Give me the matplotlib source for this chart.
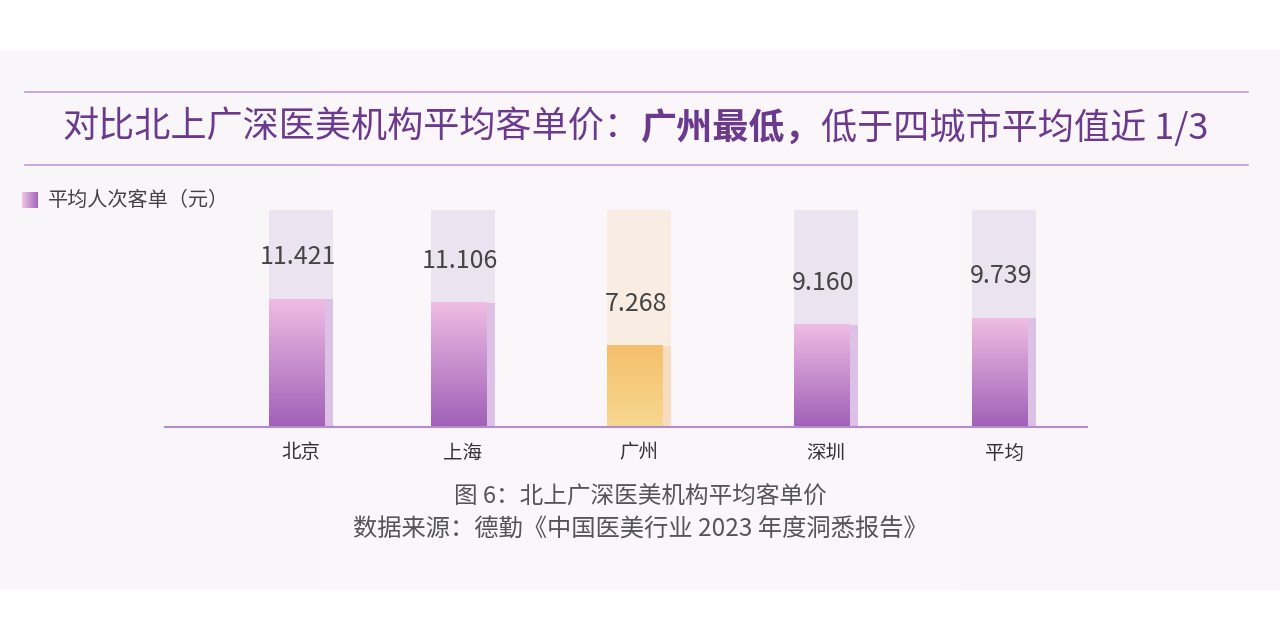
import numpy as np
import matplotlib.pyplot as plt
from matplotlib.patches import Rectangle
from matplotlib.colors import LinearSegmentedColormap

plt.rcParams['font.family'] = ['Noto Sans CJK SC', 'DejaVu Sans']

cities = ['北京', '上海', '广州', '深圳', '平均']
values = [11.421, 11.106, 7.268, 9.160, 9.739]
labels = ['11.421', '11.106', '7.268', '9.160', '9.739']

W, H = 1280, 639
fig = plt.figure(figsize=(12.8, 6.39), dpi=100)
fig.patch.set_facecolor('white')

# fondo claro del panel
bg = fig.add_axes([0, 1 - 590 / H, 1, 540 / H])
grad = np.linspace(0, 1, 256).reshape(1, -1)
bgcmap = LinearSegmentedColormap.from_list('bg', ['#f8f6f9', '#fcf7fb', '#faf5f9'])
bg.imshow(grad, aspect='auto', cmap=bgcmap, extent=[0, 1, 0, 1])
bg.axis('off')

# titulo con lineas
for y in (92, 165):
    fig.add_artist(plt.Line2D([25 / W, 1248 / W], [1 - y / H] * 2, color='#c29ad6', lw=1.2))

tcol = '#6b3a8c'
parts = [('对比北上广深医美机构平均客单价：', 'normal'), ('广州最低，', 'bold'), ('低于四城市平均值近 1/3', 'normal')]
fig.canvas.draw()
r = fig.canvas.get_renderer()
txts = [fig.text(0, 1 - 128 / H, s, fontsize=26, weight=w, color=tcol, va='center') for s, w in parts]
widths = [t.get_window_extent(r).width for t in txts]
x0 = (W - sum(widths)) / 2 - 5
for t, w in zip(txts, widths):
    t.set_x(x0 / W)
    x0 += w

# leyenda
purple = LinearSegmentedColormap.from_list('p', ['#a060b8', '#efbde3'])
orange = LinearSegmentedColormap.from_list('o', ['#f7d890', '#f5bf6c'])
lg = fig.add_axes([22 / W, 1 - 208 / H, 16 / W, 16 / H])
lg.imshow(np.linspace(0, 1, 50).reshape(1, -1), aspect='auto', cmap=LinearSegmentedColormap.from_list('l', ['#f0c6e6', '#a566bd']))
lg.axis('off')
fig.text(48 / W, 1 - 200 / H, '平均人次客单（元）', fontsize=14.5, color='#444', va='center')

# barras
ax = fig.add_axes([165 / W, 1 - 427 / H, 922 / W, 217 / H])
ymax = 19.4
ax.axis('off')
centers = [132, 294, 470, 657, 835]
bw, sw = 56, 8
col = np.linspace(0, 1, 256).reshape(-1, 1)
for i, (c, v, lab) in enumerate(zip(centers, values, labels)):
    left = c - bw / 2
    is_gz = cities[i] == '广州'
    back = '#f8ece3' if is_gz else '#ece3f0'
    ax.add_patch(Rectangle((left, 0), bw + sw, ymax, color=back, zorder=1, lw=0))
    cmap = orange if is_gz else purple
    ax.imshow(col, aspect='auto', cmap=cmap, origin='lower', extent=[left, left + bw, 0, v], zorder=2)
    ax.add_patch(Rectangle((left + bw, 0), sw, v, color='#f8dcc0' if is_gz else '#dcc0e6', zorder=2, lw=0))
    ax.text(c + 1, v + 3.75, lab, ha='center', va='center', fontsize=18, color='#444', zorder=3)
    fig.text((165 + c + 4) / W, 1 - 453 / H, cities[i], ha='center', va='center', fontsize=14, color='#333')
ax.set_xlim(0, 922)
ax.set_ylim(0, ymax)
ax.plot([0, 922], [0, 0], color='#b48ccc', lw=1.5, zorder=4, clip_on=False)

fig.text(0.5, 1 - 497 / H, '图 6：北上广深医美机构平均客单价', ha='center', va='center', fontsize=17, color='#555')
fig.text(0.5, 1 - 530 / H, '数据来源：德勤《中国医美行业 2023 年度洞悉报告》', ha='center', va='center', fontsize=17.5, color='#555')

fig.savefig('out.png', dpi=100, facecolor='white')
